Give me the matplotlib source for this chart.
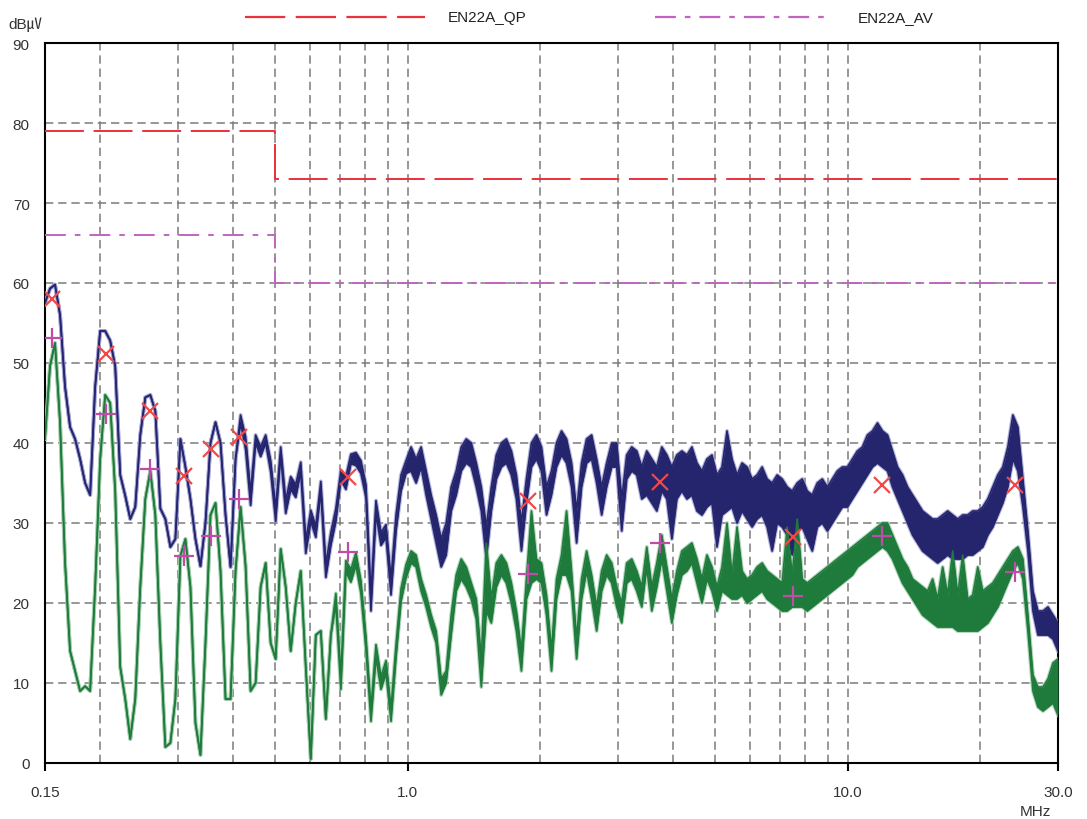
import numpy as np
import matplotlib
matplotlib.use("Agg")
import matplotlib.pyplot as plt
from matplotlib.lines import Line2D

plt.rcParams['font.family'] = ['Liberation Sans', 'Noto Sans CJK KR', 'DejaVu Sans']
plt.rcParams['lines.scale_dashes'] = False

# ---------------- data ----------------
# receiver log sweep settings (MHz)
sweep_start = 0.15
sweep_stop = 30.0
sweep_points = 203

# QP trace: max / min reading inside each sweep bin (dBuV)
qp_max = [
    57.5, 59.3, 59.8, 56, 47, 42, 40.5, 38, 35, 33.5,
    47, 54, 54, 52.8, 49.6, 36, 33.4, 30.5, 32, 41,
    45.7, 46, 44, 31.8, 30.5, 27, 28, 40.5, 37, 33,
    28, 24.6, 30, 40, 42.6, 40, 31, 24.5, 38,
    43.5, 40.8, 33.8, 41, 39.5, 41, 37.8, 31.8, 39.5, 32.8, 35.8, 34.8, 37.6, 27.8, 31.6, 29.6, 35.2,
    24.8, 28.8, 31.8, 36.6, 35.8, 38.6, 38.8, 37.8, 34.8, 21, 32.8, 28.8, 29.8, 23, 31, 36, 37.8,
    39.5, 38, 39.5, 36.5, 33.5, 31, 28, 30, 34.5, 36.5, 39.5, 40.5, 40, 37.5, 34.5, 29.5, 34.5,
    38.5, 40, 40.5, 39, 36, 30, 35.5, 40, 41, 39.5, 34.5, 36.5, 40, 41.5, 40.5, 37.5, 31.5, 37.5,
    40.5, 41, 38, 34.5, 37.5, 40, 40, 33, 38.5, 39.5, 39, 37,
    39, 38, 37, 39.5, 38.5, 37, 38.5, 39, 38.5, 39.5,
    37.5, 36.5, 38, 38.5, 36, 37, 41.5, 38, 36, 37.5,
    37, 35.5, 36, 37, 35.5, 35, 36, 35.5, 34.5, 34,
    35, 35.5, 34, 33.5, 35, 35.5, 34.5, 35.5, 36.5, 37,
    37, 38, 39, 39.5, 41, 41.5, 42.5, 41.5, 41, 39,
    37, 36, 34.5, 33.5, 32.5, 31.5, 31, 30.5, 30.5, 31,
    31.5, 31, 30.5, 31, 31, 31.5, 31.5, 32, 33, 34.5,
    36, 37, 39.5, 43.5, 42, 35.5, 29, 21.5, 19, 19,
    19.5, 18.5, 17.5,
]
qp_min = [
    57.5, 59.3, 59.8, 56, 47, 42, 40.5, 38, 35, 33.5,
    47, 54, 54, 52.8, 49.6, 36, 33.4, 30.5, 32, 41,
    45.7, 46, 44, 31.8, 30.5, 27, 28, 40.5, 37, 33,
    28, 24.6, 30, 40, 42.6, 40, 31, 24.5, 38,
    42.5, 39.2, 32.2, 40, 38.3, 40, 36.4, 30.2, 38.5, 31.2, 34.2, 33.2, 36.4, 26.2, 30.2, 28.2, 34,
    23.2, 27.2, 30.2, 35.4, 34.2, 37.4, 37.2, 36.2, 33.2, 19, 31.2, 27.2, 28.2, 21, 29, 34, 36.2,
    36.5, 35, 37, 33.5, 30.5, 27.5, 24.5, 26, 31.5, 33.5, 36.5, 37.5, 37, 34.5, 31.5, 25.5, 31.5,
    35.5, 37, 37.5, 36, 33, 26.5, 32.5, 37, 38, 36.5, 31, 33.5, 37, 38.5, 37.5, 34.5, 27.5, 34.5,
    37.5, 38, 35, 31, 34.5, 37, 37, 29, 35.5, 36.5, 36, 33,
    33.5, 32.5, 31.5, 34, 33, 28, 33, 34, 33, 33.5,
    31.5, 31, 32, 32.5, 27, 31, 31.5, 32, 30, 31.5,
    30.5, 29.5, 30.5, 31, 29.5, 26.5, 30, 29.5, 28.5, 26,
    29, 29.5, 28, 26.5, 29.5, 30, 29, 30, 31, 32,
    32, 33, 34, 35, 36, 37, 37.5, 37, 36.5, 34.5,
    33, 31.5, 30, 28.5, 27.5, 26.5, 26, 25.5, 25, 25.5,
    26, 25.5, 25.5, 25.5, 26, 26, 26.5, 27, 28.5, 29.5,
    31, 32.5, 34.5, 38, 36.5, 32, 26.5, 19, 16, 16,
    16, 15.5, 14,
]

# AV trace: max / min reading inside each sweep bin (dBuV)
av_max = [
    40.5, 49.6, 52.5, 42.6, 25, 14, 11.5, 9, 9.6, 9,
    22, 38, 46, 45, 34, 12, 8, 3, 8, 22,
    33, 36.5, 31, 15, 2, 2.5, 8, 25.9, 28, 22,
    5, 1, 15, 31, 32.5, 24, 8, 8, 24, 32,
    24.6, 9, 10, 22, 25, 15, 13, 26.75, 22, 14,
    20, 24, 12, 0.5, 16, 16.5, 5.5, 16,
    21.2, 10.8, 25.3, 24.2, 26.3, 22.8, 15.8, 6.8, 14.8, 10.8, 12.8, 6.8, 14.8, 21.8, 24.8,
    26.5, 26, 23, 21, 18.5, 16.5, 10.5, 11.5,
    18.5, 23.5, 25.5, 24.5, 22.5, 20.5, 13, 27.5, 20.5,
    25, 26, 25, 22.5, 19, 14, 23, 31.5, 25.5, 25,
    21, 14, 23, 26, 31.5, 24, 15.5, 23, 26.5, 23.5,
    19.5, 24, 26, 25, 22, 20, 25, 25.5, 24, 22,
    27, 22, 25, 28.5, 24.5, 20.5, 24, 26.5, 27, 27.5,
    25.5, 23, 26, 24.5, 22, 24.5, 30, 23.5, 29.5, 24,
    23, 23.5, 24.5, 25, 24, 23.5, 23, 22.5, 29.5, 23.5,
    30.5, 23, 22.5, 23, 23.5, 24, 24.5, 25, 25.5, 26,
    26.5, 27, 27.5, 28, 28.5, 29, 29.5, 30, 30, 28.5,
    27, 25.5, 24.5, 23, 22.5, 22, 21.5, 23, 20.5, 24.5,
    21, 26.5, 21, 26, 20.5, 21, 24.5, 21.5, 22, 22.5,
    23.5, 24.5, 25.5, 26.5, 27, 25.5, 18.5, 11, 9.5, 9.5,
    10.5, 12.5, 13,
]
av_min = [
    40.5, 49.6, 52.5, 42.6, 25, 14, 11.5, 9, 9.6, 9,
    22, 38, 46, 45, 34, 12, 8, 3, 8, 22,
    33, 36.5, 31, 15, 2, 2.5, 8, 25.9, 28, 22,
    5, 1, 15, 31, 32.5, 24, 8, 8, 24, 32,
    24.6, 9, 10, 22, 25, 15, 13, 26.75, 22, 14,
    20, 24, 12, 0.5, 16, 16.5, 5.5, 16,
    19.8, 9.2, 23.9, 22.6, 24.7, 21.2, 14.2, 5.2, 13.2, 9.2, 11.2, 5.2, 13.2, 20.2, 23.2,
    25, 24.5, 21.5, 19.5, 17, 15, 8.5, 10,
    16, 21.5, 23, 22, 20.5, 18, 9.5, 19, 17.5,
    22, 23.5, 22.5, 20, 16.5, 11.5, 20.5, 22.5, 23, 22.5,
    18.5, 11.5, 20.5, 23.5, 23.5, 21.5, 13, 20.5, 24, 20.5,
    16.5, 21.5, 23.5, 22.5, 19.5, 17.5, 22.5, 23, 21.5, 19.5,
    24.5, 19, 22, 25.5, 21.5, 17.5, 21, 23.5, 24, 25,
    22.5, 20, 23, 21.5, 19, 21.5, 21, 20.5, 20.5, 21,
    20, 20.5, 21, 21.5, 20.5, 20, 19.5, 19, 19, 19.5,
    19.5, 19.5, 19, 19.5, 20, 20.5, 21, 21.5, 22, 22.5,
    23, 23.5, 24.5, 25, 25.5, 26, 26.5, 27, 26.5, 25.5,
    24, 22.5, 21.5, 20.5, 19.5, 18.5, 18, 17.5, 17, 17,
    17, 17, 16.5, 16.5, 16.5, 16.5, 16.5, 17, 17.5, 18.5,
    19.5, 21, 22.5, 24, 25, 23, 16.5, 9, 7, 6.5,
    7, 7.5, 6,
]

peak_freq = [0.1556, 0.2064, 0.2598, 0.3105, 0.3576, 0.414, 0.7325, 1.878, 3.747, 7.52, 11.98, 23.9]
qp_peak_level = [58.0, 51.1, 44.0, 35.9, 39.25, 40.75, 35.75, 32.75, 35.1, 28.25, 34.7, 34.8]
av_peak_level = [53.1, 43.6, 36.75, 25.9, 28.4, 33.0, 26.4, 23.6, 27.5, 20.9, 28.4, 23.9]

limit_freq = [0.15, 0.5, 0.5, 30.0]
qp_limit = [79, 79, 73, 73]
av_limit = [66, 66, 60, 60]

x_ticks = [0.15, 1.0, 10.0, 30.0]
x_tick_labels = ['0.15', '1.0', '10.0', '30.0']
x_minor = [0.2, 0.3, 0.4, 0.5, 0.6, 0.7, 0.8, 0.9, 2, 3, 4, 5, 6, 7, 8, 9, 20]
y_ticks = [0, 10, 20, 30, 40, 50, 60, 70, 80, 90]

for arr in (qp_max, qp_min, av_max, av_min):
    assert len(arr) == sweep_points, len(arr)

sweep_freq = np.geomspace(sweep_start, sweep_stop, sweep_points)

# ---------------- figure ----------------
W, H = 1087, 820
fig = plt.figure(figsize=(W / 100, H / 100), dpi=100)
ax = fig.add_axes([45 / W, 56 / H, 1013 / W, 720 / H])

ax.set_xscale('log')
ax.set_xlim(0.15, 30)
ax.set_ylim(0, 90)

grid_kw = dict(color='#7a7a7a', linewidth=1.1, dashes=(6, 3.5))
ax.set_xticks(x_ticks)
ax.set_xticklabels(x_tick_labels)
ax.set_xticks(x_minor, minor=True)
ax.set_xticklabels([], minor=True)
ax.set_yticks(y_ticks)
ax.grid(True, which='both', axis='x', **grid_kw)
ax.grid(True, which='major', axis='y', **grid_kw)
ax.set_axisbelow(True)

ax.tick_params(axis='x', which='major', length=6, width=1.5, direction='out',
               pad=10, labelsize=11, labelcolor='#333333', color='black')
ax.tick_params(axis='x', which='minor', length=0)
ax.tick_params(axis='y', which='major', length=0, pad=11, labelsize=11, labelcolor='#333333')
for s in ax.spines.values():
    s.set_color('black')
    s.set_linewidth(1.5)

# limit lines
ax.plot(limit_freq, qp_limit, color='#e8323c', linewidth=1.4, dashes=(28, 7), zorder=3)
ax.plot(limit_freq, av_limit, color='#c064c0', linewidth=1.4, dashes=(15, 6.5, 4, 6.5), zorder=3)


def draw_trace(mx, mn, dark, light):
    ax.plot(sweep_freq, mx, color=light, linewidth=2.8, alpha=0.75, zorder=4)
    ax.plot(sweep_freq, mn, color=light, linewidth=2.8, alpha=0.75, zorder=4)
    ax.fill_between(sweep_freq, mn, mx, color=dark, linewidth=0, zorder=5)
    ax.plot(sweep_freq, mx, color=dark, linewidth=1.2, zorder=5)
    ax.plot(sweep_freq, mn, color=dark, linewidth=1.2, zorder=5)


draw_trace(qp_max, qp_min, '#25256e', '#9a9ad0')
draw_trace(av_max, av_min, '#1e7b3c', '#98c8a4')

# peak markers
ax.plot(peak_freq, qp_peak_level, linestyle='none', marker='x', markersize=12,
        markeredgewidth=1.6, color='#f24848', zorder=7)
ax.plot(peak_freq, av_peak_level, linestyle='none', marker='+', markersize=15,
        markeredgewidth=1.6, color='#c04ca8', zorder=7)

# legend (drawn above the plot)
fig.add_artist(Line2D([245 / W, 425 / W], [1 - 18 / H, 1 - 18 / H], color='#e8323c',
                      linewidth=1.6, dashes=(29, 7.5)))
fig.text(448 / W, 1 - 18 / H, 'EN22A_QP', fontsize=11, color='#222222', va='center', ha='left')
fig.add_artist(Line2D([655 / W, 830 / W], [1 - 18 / H, 1 - 18 / H], color='#c064c0',
                      linewidth=1.6, dashes=(15, 6.5, 4, 6.5)))
fig.text(858 / W, 1 - 18 / H, 'EN22A_AV', fontsize=11, color='#222222', va='center', ha='left')

# axis unit labels
fig.text(8 / W, 1 - 25 / H, 'dB㎶', fontsize=11, color='#333333', va='center', ha='left')
fig.text(1035 / W, 1 - 812 / H, 'MHz', fontsize=11, color='#333333', va='center', ha='center')

fig.savefig('out.png', dpi=100)
